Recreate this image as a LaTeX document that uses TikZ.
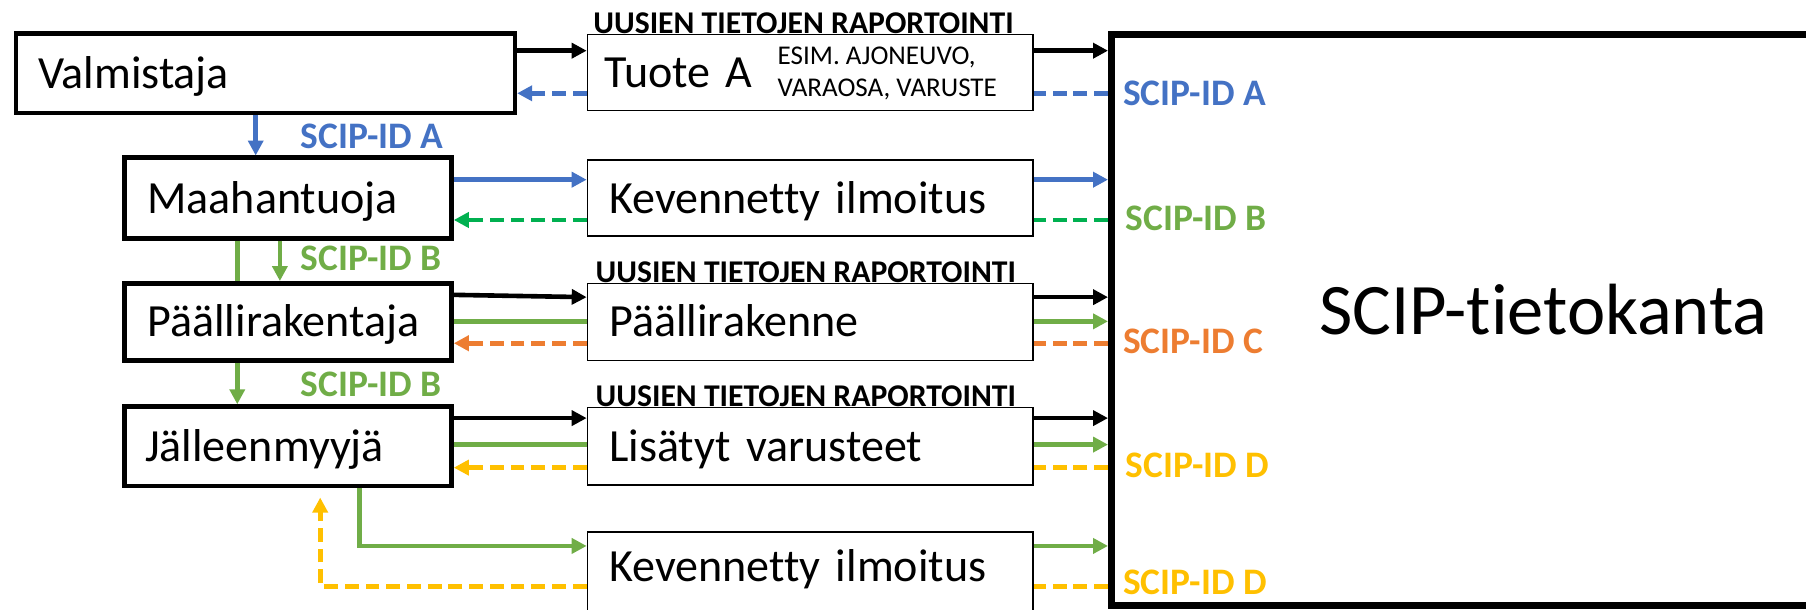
\documentclass[tikz,border=0pt]{standalone}
\usepackage{fontspec}
\setmainfont{Carlito}[Ligatures=NoCommon, RawFeature={-liga;-clig;-dlig}]
\usetikzlibrary{arrows.meta}
\definecolor{cblue}{HTML}{4472C4}
\definecolor{cgreen}{HTML}{70AD47}
\definecolor{cdgreen}{HTML}{00B050}
\definecolor{corange}{HTML}{ED7D31}
\definecolor{cyellow}{HTML}{FFC000}
\begin{document}
\begin{tikzpicture}[x=1pt,y=-1pt,
  actor/.style={draw=black, fill=white, line width=4pt, inner ysep=0pt, align=left,
    font=\fontsize{40}{48}\selectfont, text height=26pt, text depth=0pt},
  item/.style={draw=black, fill=white, line width=1.3pt, inner ysep=0pt, align=left,
    font=\fontsize{40}{48}\selectfont, text height=26pt, text depth=0pt},
  report/.style={anchor=base west, inner sep=0pt, font=\bfseries\fontsize{27.5}{32}\selectfont},
  idlabel/.style={anchor=base west, inner sep=0pt, text=#1, font=\bfseries\fontsize{32.5}{38}\selectfont},
  small/.style={anchor=base west, inner sep=0pt, font=\fontsize{23.5}{28}\selectfont},
  ln/.style={line width=4pt, color=#1},
  ar/.style={line width=4pt, color=#1, -{Triangle[length=13pt,width=13pt]}},
  dl/.style={ln=#1, dash pattern=on 12pt off 6pt},
  da/.style={ar=#1, dash pattern=on 12pt off 6pt},
]
\useasboundingbox (0,0) rectangle (1568,529);
\clip (0,0) rectangle (1568,529);

% report labels (behind boxes)
\node[report] (rep1) at (515,29) {UUSIEN TIETOJEN RAPORTOINTI};
\node[report] (rep2) at (517,245.5) {UUSIEN TIETOJEN RAPORTOINTI};
\node[report] (rep3) at (517,353) {UUSIEN TIETOJEN RAPORTOINTI};

% actor boxes
\node[actor, minimum width=433pt, minimum height=69pt, text width=395pt, inner xsep=19pt] (valm) at (230.5,63.5) {\mbox{Valmistaja}};
\node[actor, minimum width=284pt, minimum height=70pt, text width=244pt, inner xsep=20pt] (maah) at (250,172) {\mbox{Maahantuoja}};
\node[actor, minimum width=284pt, minimum height=67pt, text width=244pt, inner xsep=20pt] (paal) at (250,279.5) {\mbox{Päällirakentaja}};
\node[actor, minimum width=284pt, minimum height=69pt, text width=248pt, inner xsep=18pt] (jall) at (250,387.5) {\mbox{Jälleenmyyjä}};

% item boxes
\node[item, minimum width=387pt, minimum height=66pt, text width=357pt, inner xsep=15pt] (tuote) at (703.5,63) {\mbox{Tuote A}};
\node[item, minimum width=387pt, minimum height=66pt, text width=349pt, inner xsep=19pt] (kev1) at (703.5,172) {\mbox{Kevennetty ilmoitus}};
\node[item, minimum width=387pt, minimum height=67pt, text width=349pt, inner xsep=19pt] (paalr) at (703.5,279.5) {\mbox{Päällirakenne}};
\node[item, minimum width=387pt, minimum height=67pt, text width=349pt, inner xsep=19pt] (lisa) at (703.5,387.5) {\mbox{Lisätyt varusteet}};
\node[item, minimum width=387pt, minimum height=70pt, text width=349pt, inner xsep=19pt, text depth=10pt] (kev2) at (703.5,497) {\mbox{Kevennetty ilmoitus}};

\node[small] (esim1) at (675,56) {ESIM. AJONEUVO,};
\node[small] (esim2) at (675,84) {VARAOSA, VARUSTE};

% database
\node[draw=black, fill=white, line width=6pt, minimum width=635pt, minimum height=496pt, inner sep=0pt] (scip) at (1282.5,278) {};
\node[anchor=base west, inner sep=0pt, font=\fontsize{63}{72}\selectfont] (dbtext) at (1145,290) {SCIP-tietokanta};

% id labels
\node[idlabel=cblue] (idA1) at (261,129) {SCIP-ID A};
\node[idlabel=cgreen] (idB1) at (261,235) {SCIP-ID B};
\node[idlabel=cgreen] (idB2) at (261,344) {SCIP-ID B};
\node[idlabel=cblue] (idA2) at (975,92) {SCIP-ID A};
\node[idlabel=cgreen] (idB3) at (977,200) {SCIP-ID B};
\node[idlabel=corange] (idC) at (975,307) {SCIP-ID C};
\node[idlabel=cyellow] (idD1) at (977,415) {SCIP-ID D};
\node[idlabel=cyellow] (idD2) at (975,516) {SCIP-ID D};

% helper rows / columns
\coordinate (r1a) at (0,44);   \coordinate (r1b) at (0,81);
\coordinate (r2a) at (0,156);  \coordinate (r2b) at (0,191);
\coordinate (r3k) at (0,256);  \coordinate (r3l) at (0,258);
\coordinate (r3a) at (0,279);  \coordinate (r3b) at (0,298);
\coordinate (r4k) at (0,363);  \coordinate (r4a) at (0,386);  \coordinate (r4b) at (0,406);
\coordinate (r5a) at (0,474);  \coordinate (r5b) at (0,509);
\coordinate (vA) at (222,0);   \coordinate (vB1) at (206,0);  \coordinate (vB2) at (243,0);
\coordinate (vG) at (312,0);   \coordinate (vY) at (278,0);

% row 1
\draw[ar=black] (valm.east |- r1a) -- (tuote.west |- r1a);
\draw[ar=black] (tuote.east |- r1a) -- (scip.west |- r1a);
\draw[dl=cblue] (scip.west |- r1b) -- (tuote.east |- r1b);
\draw[da=cblue] (tuote.west |- r1b) -- (valm.east |- r1b);
\draw[ar=cblue] (valm.south -| vA) -- (maah.north -| vA);

% row 2
\draw[ar=cblue] (maah.east |- r2a) -- (kev1.west |- r2a);
\draw[ar=cblue] (kev1.east |- r2a) -- (scip.west |- r2a);
\draw[dl=cdgreen] (scip.west |- r2b) -- (kev1.east |- r2b);
\draw[da=cdgreen] (kev1.west |- r2b) -- (maah.east |- r2b);
\draw[ln=cgreen] (maah.south -| vB1) -- (paal.north -| vB1);
\draw[ar=cgreen] (maah.south -| vB2) -- (paal.north -| vB2);

% row 3
\draw[ar=black] (paal.east |- r3k) -- (paalr.west |- r3l);
\draw[ar=black] (paalr.east |- r3l) -- (scip.west |- r3l);
\draw[ln=cgreen] (paal.east |- r3a) -- (paalr.west |- r3a);
\draw[ar=cgreen] (paalr.east |- r3a) -- (scip.west |- r3a);
\draw[dl=corange] (scip.west |- r3b) -- (paalr.east |- r3b);
\draw[da=corange] (paalr.west |- r3b) -- (paal.east |- r3b);
\draw[ar=cgreen] (paal.south -| vB1) -- (jall.north -| vB1);

% row 4
\draw[ar=black] (jall.east |- r4k) -- (lisa.west |- r4k);
\draw[ar=black] (lisa.east |- r4k) -- (scip.west |- r4k);
\draw[ln=cgreen] (jall.east |- r4a) -- (lisa.west |- r4a);
\draw[ar=cgreen] (lisa.east |- r4a) -- (scip.west |- r4a);
\draw[dl=cyellow] (scip.west |- r4b) -- (lisa.east |- r4b);
\draw[da=cyellow] (lisa.west |- r4b) -- (jall.east |- r4b);

% row 5
\draw[ar=cgreen] (jall.south -| vG) |- (kev2.west |- r5a);
\draw[ar=cgreen] (kev2.east |- r5a) -- (scip.west |- r5a);
\draw[dl=cyellow] (scip.west |- r5b) -- (kev2.east |- r5b);
\draw[da=cyellow, shorten >=8pt] (kev2.west |- r5b) -| (jall.south -| vY);
\end{tikzpicture}
\end{document}
